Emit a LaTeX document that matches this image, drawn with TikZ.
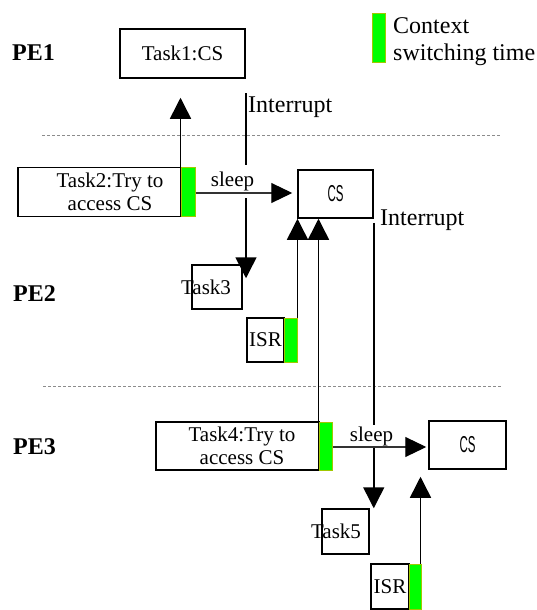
\documentclass[tikz,border=0pt]{standalone}
\usepackage{fontspec}
\setmainfont{Liberation Serif}
\setsansfont{Liberation Sans}
\newfontfamily\timesfont{Liberation Serif}
\usetikzlibrary{arrows.meta,calc}
\definecolor{ctxgreen}{HTML}{00FF00}
\definecolor{ctxedge}{HTML}{A0C800}
\definecolor{sepgray}{HTML}{8C8C8C}
% condensed label used inside the critical-section boxes
\newcommand{\cslabel}{{\sffamily\fontsize{23}{23}\selectfont\scalebox{0.5}[1]{CS}}}
\begin{document}
\begin{tikzpicture}[x=1pt,y=-1pt,
  box/.style={draw,line width=1.5pt,inner sep=0pt,align=center,
              font=\timesfont\fontsize{21}{22.5}\selectfont},
  ctx/.style={draw=ctxedge,fill=ctxgreen,line width=1pt,inner sep=0pt},
  arr/.style={line width=1.5pt,-{Triangle[width=21pt,length=21pt]}},
  sleeparr/.style={line width=1.1pt,draw=black!80,-{Triangle[width=20pt,length=21pt,color=black]}},
  sleeplbl/.style={fill=white,inner xsep=1pt,inner ysep=0pt,
                   font=\timesfont\fontsize{21}{21}\selectfont},
  irqlbl/.style={anchor=base west,inner sep=0pt,font=\timesfont\fontsize{24}{24}\selectfont},
  pelbl/.style={anchor=base west,inner sep=0pt,font=\timesfont\fontsize{24}{24}\selectfont\bfseries},
  sep/.style={draw=sepgray,line width=0.8pt,dash pattern=on 3pt off 2pt}]
\useasboundingbox (0,0) rectangle (537,610);

% processing element labels
\node[pelbl] (pe1) at (12,60) {PE1};
\node[pelbl] (pe2) at (13,301) {PE2};
\node[pelbl] (pe3) at (13,454) {PE3};

% separators between processing elements
\coordinate (sepA1) at (42,135);
\coordinate (sepA2) at (501,135);
\coordinate (sepB1) at (43,386);
\coordinate (sepB2) at (502,386);
\draw[sep] (sepA1) -- (sepA2);
\draw[sep] (sepB1) -- (sepB2);

% legend
\node[ctx,minimum width=13pt,minimum height=49pt] (legbar) at (378.5,38.5) {};
\node[anchor=north west,inner sep=0pt,align=left,font=\timesfont\fontsize{24}{27}\selectfont]
  (legtxt) at (393,17) {Context\\switching time};

% PE1
\node[box,minimum width=125pt,minimum height=49pt] (task1) at (182.5,53.5) {Task1:CS};

% PE2
\node[box,minimum width=163pt,minimum height=49pt] (task2) at (99.5,192)
  {\hspace*{21pt}Task2:Try to\\\hspace*{21pt}access CS};
\node[ctx,minimum width=14pt,minimum height=49pt] (g2) at (188,192) {};
\node[box,minimum width=75pt,minimum height=48pt] (cs2) at (335.5,194) {\cslabel};
\node[box,minimum width=50pt,minimum height=44pt] (task3) at (217,287)
  {\makebox[0pt][c]{\hspace*{-22pt}Task3}};
\node[box,minimum width=37pt,minimum height=44pt] (isr2) at (265.5,340) {ISR};
\node[ctx,minimum width=13pt,minimum height=44pt] (gisr2) at (290.5,340) {};

% PE3
\node[box,minimum width=163pt,minimum height=48pt] (task4) at (237.5,446)
  {\hspace*{9pt}Task4:Try to\\\hspace*{9pt}access CS};
\node[ctx,minimum width=13pt,minimum height=48pt] (g4) at (325.5,446) {};
\node[box,minimum width=77pt,minimum height=48pt] (cs3) at (467.5,445) {\cslabel};
\node[box,minimum width=47pt,minimum height=45pt] (task5) at (345.5,531.5)
  {\makebox[0pt][c]{\hspace*{-19pt}Task5}};
\node[box,minimum width=38pt,minimum height=45pt] (isr3) at (390,586.5) {ISR};
\node[ctx,minimum width=12pt,minimum height=45pt] (gisr3) at (415,586.5) {};

% interrupt lines
\coordinate (int1) at (246,93);
\coordinate (int2) at ([yshift=-4pt]cs2.south east);
\draw[arr,shorten >=-14pt] (int1) -- (int1 |- task3.north);
\draw[arr] (int2) -- (int2 |- task5.north);
\node[irqlbl] (irq1) at (248,112) {Interrupt};
\node[irqlbl] (irq2) at (380,225) {Interrupt};

% Task2 enters the critical section on PE1
\draw[arr,shorten >=19pt] (g2.north west) -- (g2.north west |- task1.south);

% requests reaching the critical section on PE2
\draw[arr] (gisr2.north east) -- (gisr2.north east |- cs2.south);
\draw[arr] (g4.north west) -- (g4.north west |- cs2.south);

% sleeping tasks
\node[sleeplbl,minimum height=33pt] (sleep2) at (232.5,181.5) {sleep};
\node[sleeplbl,minimum height=22pt] (sleep3) at (371.5,436) {sleep};
\draw[sleeparr,shorten >=5pt] ([yshift=-1pt]g2.east) -- ([yshift=-1pt]g2.east -| cs2.west);
\draw[sleeparr,shorten >=2pt] ([yshift=-1pt]g4.east) -- ([yshift=-1pt]g4.east -| cs3.west);

% ISR on PE3
\draw[arr,shorten >=7pt] ([xshift=-1pt]gisr3.north east) -- ([xshift=-1pt]gisr3.north east |- cs3.south);
\end{tikzpicture}
\end{document}
